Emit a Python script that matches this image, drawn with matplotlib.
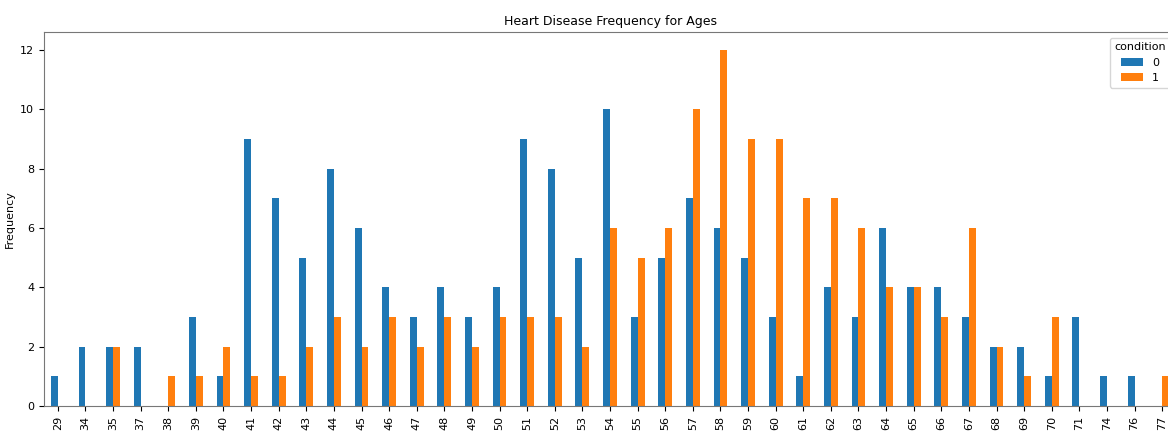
import matplotlib
matplotlib.use('Agg')
import matplotlib.pyplot as plt
import pandas as pd

ages = [29, 34, 35, 37, 38, 39, 40, 41, 42, 43, 44, 45, 46, 47, 48, 49, 50,
        51, 52, 53, 54, 55, 56, 57, 58, 59, 60, 61, 62, 63, 64, 65, 66, 67,
        68, 69, 70, 71, 74, 76, 77]
cond0 = [1, 2, 2, 2, 0, 3, 1, 9, 7, 5, 8, 6, 4, 3, 4, 3, 4,
         9, 8, 5, 10, 3, 5, 7, 6, 5, 3, 1, 4, 3, 6, 4, 4, 3,
         2, 2, 1, 3, 1, 1, 0]
cond1 = [0, 0, 2, 0, 1, 1, 2, 1, 1, 2, 3, 2, 3, 2, 3, 2, 3,
         3, 3, 2, 6, 5, 6, 10, 12, 9, 9, 7, 7, 6, 4, 4, 3, 6,
         2, 1, 3, 0, 0, 0, 1]

df = pd.DataFrame({0: cond0, 1: cond1}, index=pd.Index(ages, name='age'))
df.columns.name = 'condition'

fig = plt.figure(figsize=(11.68, 4.34), dpi=100)
# axes runs a little past the right edge, like the cropped screenshot
ax = fig.add_axes([44 / 1168, 28 / 434, 1132 / 1168, 374 / 434])
df.plot(kind='bar', ax=ax, color=['#1f77b4', '#ff7f0e'])

ax.set_title('Heart Disease Frequency for Ages', fontsize=9, pad=5)
ax.set_ylabel('Frequency', fontsize=8)
ax.set_xlabel('')
ax.tick_params(labelsize=8)
ax.set_yticks(range(0, 13, 2))
for s in ax.spines.values():
    s.set_color('#777777')
ax.legend(title='condition', loc='upper right', fontsize=8, title_fontsize=8)

plt.savefig('out.png', dpi=100)
plt.close()
